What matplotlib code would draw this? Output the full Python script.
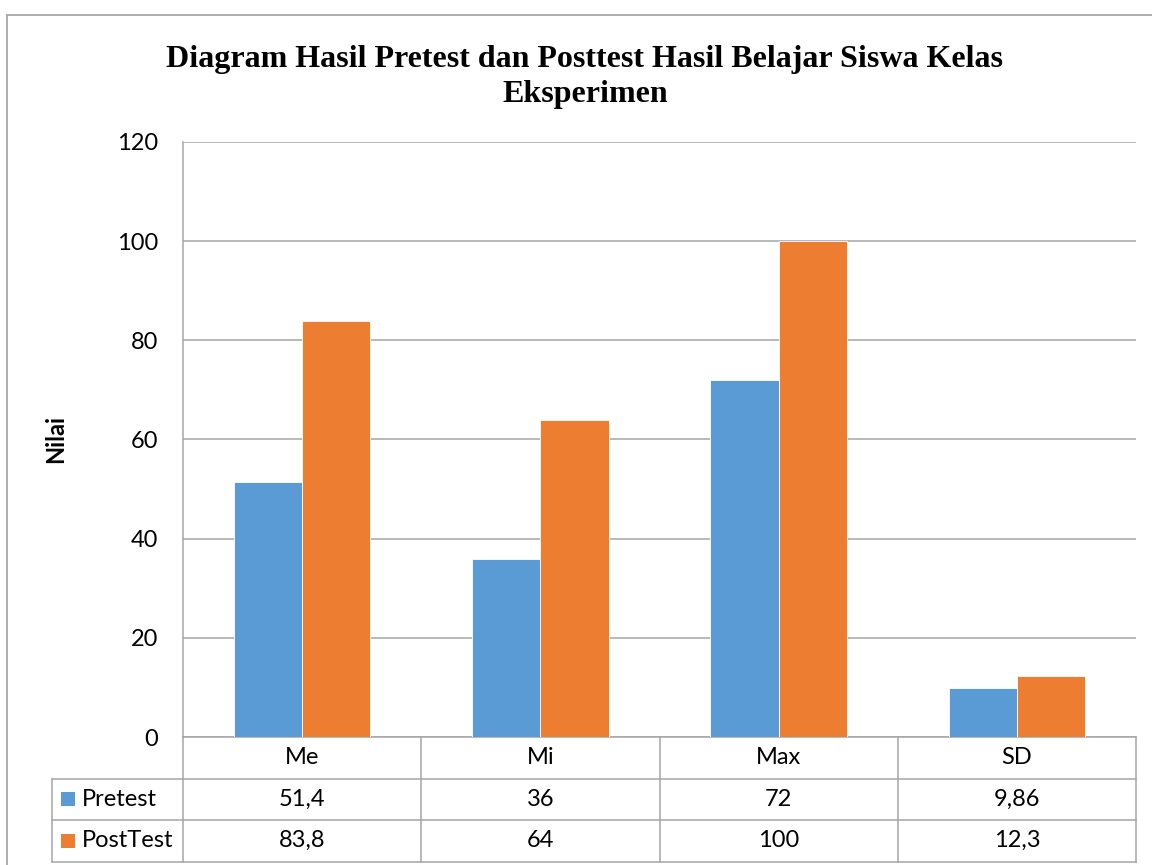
import matplotlib
matplotlib.use("Agg")
import matplotlib.pyplot as plt
from matplotlib.patches import Rectangle
from matplotlib.lines import Line2D
from matplotlib.transforms import blended_transform_factory
import numpy as np

# Data
categories = ["Me", "Mi", "Max", "SD"]
series_names = ["Pretest", "PostTest"]
pretest = [51.4, 36, 72, 9.86]
posttest = [83.8, 64, 100, 12.3]
y_ticks = [0, 20, 40, 60, 80, 100, 120]
colors = ["#5B9BD5", "#ED7D31"]

title = "Diagram Hasil Pretest dan Posttest Hasil Belajar Siswa Kelas\nEksperimen"
y_label = "Nilai"

SANS = ["Lato", "DejaVu Sans"]
SERIF = ["Liberation Serif", "DejaVu Serif"]
GRID = "#A6A6A6"
FS = 17

W, H = 1152, 865
fig = plt.figure(figsize=(W / 100, H / 100), dpi=100)

# outer chart frame
fig.patches.append(Rectangle((6.5 / W, -0.01), 1.1, 1 - 14.5 / H + 0.01,
                             transform=fig.transFigure, fill=False,
                             edgecolor="#A0A0A0", linewidth=1.2))

left, right, top, bottom = 183, 1136, 142, 737
ax = fig.add_axes([left / W, 1 - bottom / H, (right - left) / W, (bottom - top) / H])

x = np.arange(len(categories))
bw = 0.286
series = [pretest, posttest]
for i, vals in enumerate(series):
    ax.bar(x + (i - 0.5) * bw, vals, width=bw, color=colors[i],
           edgecolor="#FFFFFF", linewidth=0.6, zorder=3)

ax.set_xlim(-0.5, len(categories) - 0.5)
ax.set_ylim(0, 120)
ax.set_yticks(y_ticks)
ax.set_yticklabels([str(t) for t in y_ticks], fontsize=FS, family=SANS)
ax.tick_params(axis="y", length=0, pad=18)
ax.set_xticks([])
ax.grid(axis="y", color=GRID, linewidth=1.1, zorder=0)
for s in ["top", "right", "bottom"]:
    ax.spines[s].set_visible(False)
ax.spines["left"].set_color(GRID)
ax.spines["left"].set_linewidth(1.1)

ax.set_ylabel(y_label, fontsize=FS, fontweight="bold", family=SANS, labelpad=0)
ax.yaxis.set_label_coords(-(left - 67) / (right - left), 0.5)

fig.text(585 / W, 1 - 77 / H, title, ha="center", va="center",
         fontsize=23, fontweight="bold", family=SERIF, linespacing=1.3)

# data table below the axis: x in data units, y in axes fraction
bt = blended_transform_factory(ax.transData, ax.transAxes)
n = len(categories)
unit = (right - left) / n  # pixels per category
row_h = 41.5 / (bottom - top)
label_x0 = -0.5 - (left - 52) / unit
lw = 1.1


def hline(x0, x1, y):
    ax.add_line(Line2D([x0, x1], [y, y], transform=bt, color=GRID,
                       linewidth=lw, clip_on=False))


def vline(xx, y0, y1):
    ax.add_line(Line2D([xx, xx], [y0, y1], transform=bt, color=GRID,
                       linewidth=lw, clip_on=False))


hline(-0.5, n - 0.5, 0)
for r in range(1, 4):
    hline(label_x0, n - 0.5, -r * row_h)
vline(label_x0, -row_h, -3 * row_h)
for c in range(n + 1):
    vline(c - 0.5, 0, -3 * row_h)


def fmt(v):
    return f"{v:g}".replace(".", ",")


for c, cat in enumerate(categories):
    ax.text(c, -0.5 * row_h, cat, transform=bt, ha="center", va="center",
            fontsize=FS, family=SANS)
    for r, vals in enumerate(series):
        ax.text(c, -(r + 1.5) * row_h, fmt(vals[c]), transform=bt,
                ha="center", va="center", fontsize=FS, family=SANS)

for r, name in enumerate(series_names):
    yc = -(r + 1.5) * row_h
    sq = 14 / unit
    sqh = 14 / (bottom - top)
    ax.add_patch(Rectangle((label_x0 + 9 / unit, yc - sqh / 2), sq, sqh,
                           transform=bt, facecolor=colors[r], edgecolor="none",
                           clip_on=False))
    ax.text(label_x0 + 30 / unit, yc, name, transform=bt, ha="left", va="center",
            fontsize=FS, family=SANS)

fig.savefig("out.png", dpi=100)
